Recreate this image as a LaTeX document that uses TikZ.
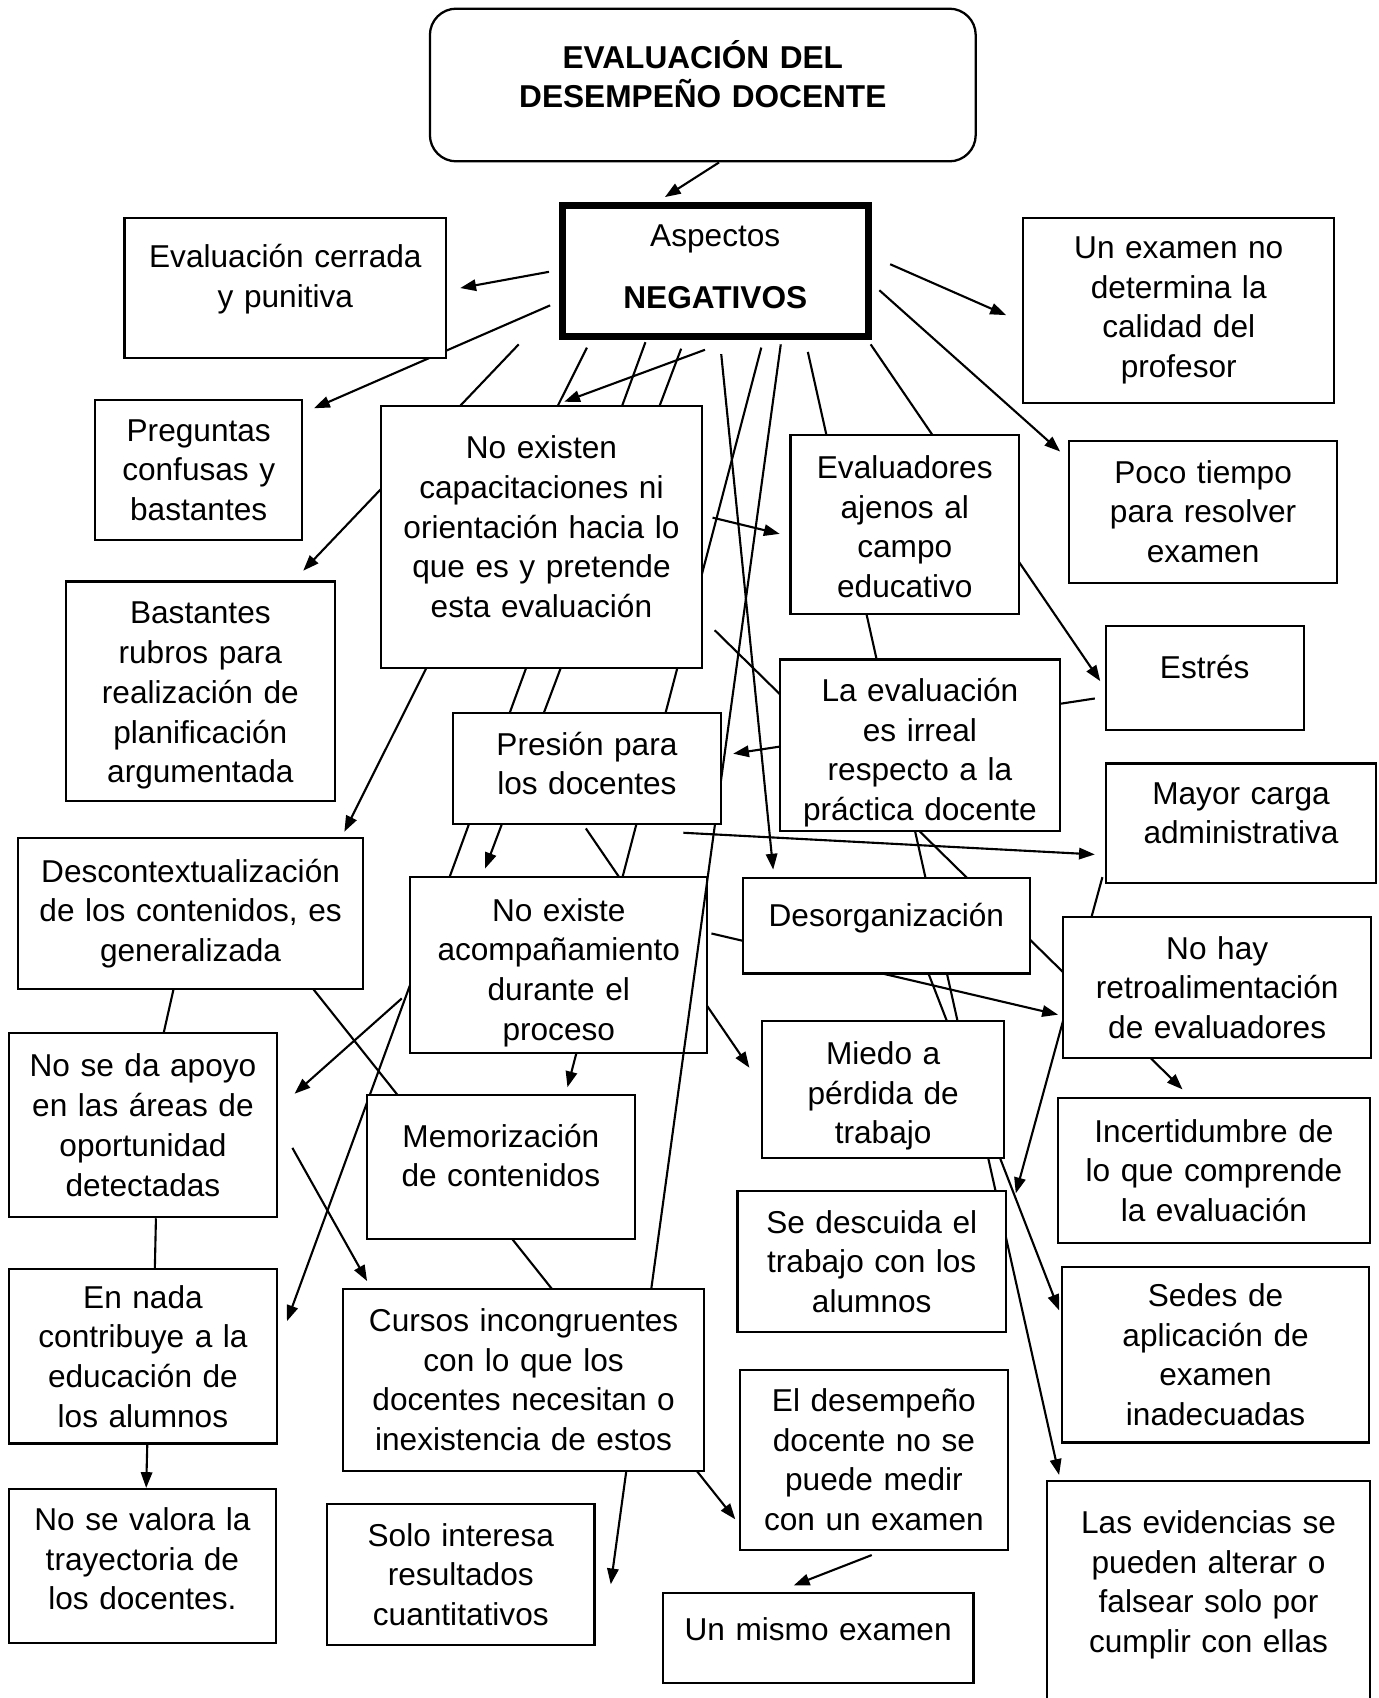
\documentclass[tikz,border=0pt]{standalone}
\usepackage{fontspec}
\setmainfont{Liberation Sans}
\usetikzlibrary{arrows.meta}

\newlength{\pxu}
\setlength{\pxu}{0.6165pt}

\pgfdeclarelayer{lines}
\pgfdeclarelayer{lowbox}
\pgfdeclarelayer{midline}
\pgfsetlayers{lines,lowbox,midline,main}

\tikzset{
  box/.style 2 args={draw, fill=white, line width=1.2pt, align=center,
    inner xsep=0pt, inner ysep=2pt, font=\fontsize{18}{22.6}\selectfont,
    text width=#1*\pxu, minimum width=#1*\pxu, minimum height=#2*\pxu},
  lift/.style={execute at end node={\endgraf\kern#1\pxu\relax}},
  arr/.style={line width=1.2pt, -{Triangle[length=9pt, width=6.5pt]}},
  plain/.style={line width=1.2pt},
}

\begin{document}
\begin{tikzpicture}[x=0.6165pt, y=-0.6165pt]
\useasboundingbox (0, 0) rectangle (1273, 1568);
% cuadros
\node[box={504}{141}, rounded corners=15pt, line width=1.3pt, lift=20] (titulo) at (649, 78.5) {\bfseries EVALUACIÓN DEL\\DESEMPEÑO DOCENTE};
\node[box={283}{121}, line width=4pt, lift=8] (neg) at (660.5, 250.5) {Aspectos\\[12.4pt]\textbf{NEGATIVOS}};
\node[box={297}{130}, lift=16] (cerrada) at (263.5, 266) {Evaluación cerrada\\y punitiva};
\node[box={287}{171}] (examen) at (1088.5, 286.5) {Un examen no\\determina la\\calidad del\\profesor};
\node[box={191}{130}] (preguntas) at (183.5, 434) {Preguntas\\confusas y\\bastantes};
\node[box={296}{242}, lift=19] (capacit) at (500, 496) {No existen\\capacitaciones ni\\orientación hacia lo\\que es y pretende\\esta evaluación};
\node[box={211}{165}, lift=-4] (evaluadores) at (835.5, 484.5) {Evaluadores\\ajenos al\\campo\\educativo};
\node[box={248}{131}] (poco) at (1111, 472.5) {Poco tiempo\\para resolver\\examen};
\node[box={248}{203}, lift=-8] (bastantes) at (185, 638.5) {Bastantes\\rubros para\\realización de\\planificación\\argumentada};
\node[box={183}{96}, lift=20] (estres) at (1112.5, 626) {Estrés};
\node[box={259}{158}, lift=-14] (irreal) at (849.5, 688) {La evaluación\\es irreal\\respecto a la\\práctica docente};
\node[box={248}{103}, lift=9] (presion) at (542, 709.5) {Presión para\\los docentes};
\node[box={250}{110}, lift=18] (mayor) at (1146, 760) {Mayor carga\\administrativa};
\node[box={318}{139}] (descontext) at (176, 843.5) {Descontextualización\\de los contenidos, es\\generalizada};
\begin{pgfonlayer}{lowbox}
\node[box={274}{162}, lift=-14] (noexiste) at (516, 891) {No existe\\acompañamiento\\durante el\\proceso};
\end{pgfonlayer}
\node[box={265}{88}, lift=14] (desorg) at (818.5, 855) {Desorganización};
\node[box={284}{130}] (nohay) at (1124, 912) {No hay\\retroalimentación\\de evaluadores};
\node[box={248}{170}] (apoyo) at (132, 1039) {No se da apoyo\\en las áreas de\\oportunidad\\detectadas};
\node[box={223}{126}, lift=-12] (miedo) at (815.5, 1006) {Miedo a\\pérdida de\\trabajo};
\node[box={247}{133}, lift=21] (memoriz) at (462.5, 1077.5) {Memorización\\de contenidos};
\node[box={288}{134}] (incert) at (1121, 1081) {Incertidumbre de\\lo que comprende\\la evaluación};
\node[box={248}{130}] (descuida) at (805, 1165) {Se descuida el\\trabajo con los\\alumnos};
\node[box={248}{161}] (ennada) at (132, 1252.5) {En nada\\contribuye a la\\educación de\\los alumnos};
\node[box={283}{162}] (sedes) at (1122.5, 1251) {Sedes de\\aplicación de\\examen\\inadecuadas};
\node[box={333}{168}] (cursos) at (483.5, 1274) {Cursos incongruentes\\con lo que los\\docentes necesitan o\\inexistencia de estos};
\node[box={248}{166}] (desempeno) at (807, 1348) {El desempeño\\docente no se\\puede medir\\con un examen};
\node[box={247}{142}, lift=13] (novalora) at (131.5, 1446) {No se valora la\\trayectoria de\\los docentes.};
\node[box={247}{130}] (solo) at (425.5, 1454) {Solo interesa\\resultados\\cuantitativos};
\node[box={298}{232}, lift=41] (evidencias) at (1116, 1484) {Las evidencias se\\pueden alterar o\\falsear solo por\\cumplir con ellas};
\node[box={287}{83}, lift=17] (mismo) at (755.5, 1512.5) {Un mismo examen};

% conectores, por debajo de los cuadros
\begin{pgfonlayer}{lines}
\fill[white] (0, 0) rectangle (1273, 1568);
\coordinate (tituloOut) at (664, 150);  \coordinate (negIn) at (614, 182);
\coordinate (neg1) at (507, 251);       \coordinate (cerradaIn) at (425, 266);
\coordinate (neg2) at (508, 282);       \coordinate (preguntasIn) at (290, 377);
\coordinate (neg3) at (479, 318);       \coordinate (bastantesIn) at (280, 527);
\coordinate (neg4) at (542, 321);       \coordinate (descontextIn) at (318, 768);
\coordinate (neg5) at (596, 316);       \coordinate (ennadaIn) at (265, 1220);
\coordinate (neg6) at (629, 322);       \coordinate (noexisteIn) at (448, 802);
\coordinate (neg7) at (651, 323);       \coordinate (capacitIn) at (521, 371);
\coordinate (neg8) at (666, 327);       \coordinate (desorgIn) at (714, 803);
\coordinate (neg9) at (703, 321);       \coordinate (memorizIn) at (524, 1004);
\coordinate (neg10) at (721, 318);      \coordinate (soloIn) at (564, 1463);
\coordinate (neg11) at (746, 325);      \coordinate (evidenciasIn) at (978, 1362);
\coordinate (neg12) at (804, 318);      \coordinate (estresIn) at (1016, 629);
\coordinate (neg13) at (812, 268);      \coordinate (pocoIn) at (979, 417);
\coordinate (neg14) at (822, 244);      \coordinate (examenIn) at (929, 291);
\coordinate (capacit1) at (658, 478);   \coordinate (evaluadoresIn) at (720, 493);
\coordinate (capacit2) at (660, 582);   \coordinate (incertIn) at (1092, 1006);
\coordinate (estres1) at (1011, 645);   \coordinate (presionIn) at (677, 696);
\coordinate (presion1) at (631, 769);   \coordinate (mayorIn) at (1011, 789);
\coordinate (presion2) at (541, 765);   \coordinate (miedoIn) at (692, 986);
\coordinate (noexiste1) at (657, 862);  \coordinate (nohayIn) at (977, 937);
\coordinate (noexiste2) at (371, 922);  \coordinate (apoyoIn) at (272, 1010);
\coordinate (descontext1) at (289, 913); \coordinate (desempenoIn) at (679, 1403);
\coordinate (apoyo1) at (270, 1060);    \coordinate (cursosIn) at (339, 1183);
\coordinate (desempeno1) at (805, 1436); \coordinate (mismoIn) at (733, 1464);
\coordinate (mayor1) at (1018, 810);    \coordinate (descuidaIn) at (938, 1102);
\coordinate (desorg1) at (850, 880);    \coordinate (sedesIn) at (978, 1210);
\draw
(tituloOut) edge[arr] (negIn)
(neg1) edge[arr] (cerradaIn)
(neg2) edge[arr] (preguntasIn)
(neg3) edge[arr] (bastantesIn)
(neg4) edge[arr] (descontextIn)
(neg5) edge[arr] (ennadaIn)
(neg6) edge[arr] (noexisteIn)
(neg7) edge[arr] (capacitIn)
(neg8) edge[arr] (desorgIn)
(neg9) edge[arr] (memorizIn)
(neg11) edge[arr] (evidenciasIn)
(neg12) edge[arr] (estresIn)
(neg13) edge[arr] (pocoIn)
(neg14) edge[arr] (examenIn)
(capacit1) edge[arr] (evaluadoresIn)
(capacit2) edge[arr] (incertIn)
(estres1) edge[arr] (presionIn)
(presion1) edge[arr] (mayorIn)
(presion2) edge[arr] (miedoIn)
(noexiste1) edge[arr] (nohayIn)
(noexiste2) edge[arr] (apoyoIn)
(descontext1) edge[arr] (desempenoIn)
(apoyo1) edge[arr] (cursosIn)
(desempeno1) edge[arr] (mismoIn)
(mayor1) edge[arr] (descuidaIn)
(desorg1) edge[arr] (sedesIn)
(descontext) edge[plain] (apoyo)
([xshift=12*\pxu]apoyo.south) edge[plain] ([xshift=11*\pxu]ennada.north)
([xshift=4*\pxu]ennada.south) edge[arr] ([xshift=3.5*\pxu]novalora.north);
\end{pgfonlayer}
% esta pasa sobre "No existe" pero bajo los demas
\begin{pgfonlayer}{midline}
\draw (neg10) edge[arr] (soloIn);
\end{pgfonlayer}
\end{tikzpicture}
\end{document}
